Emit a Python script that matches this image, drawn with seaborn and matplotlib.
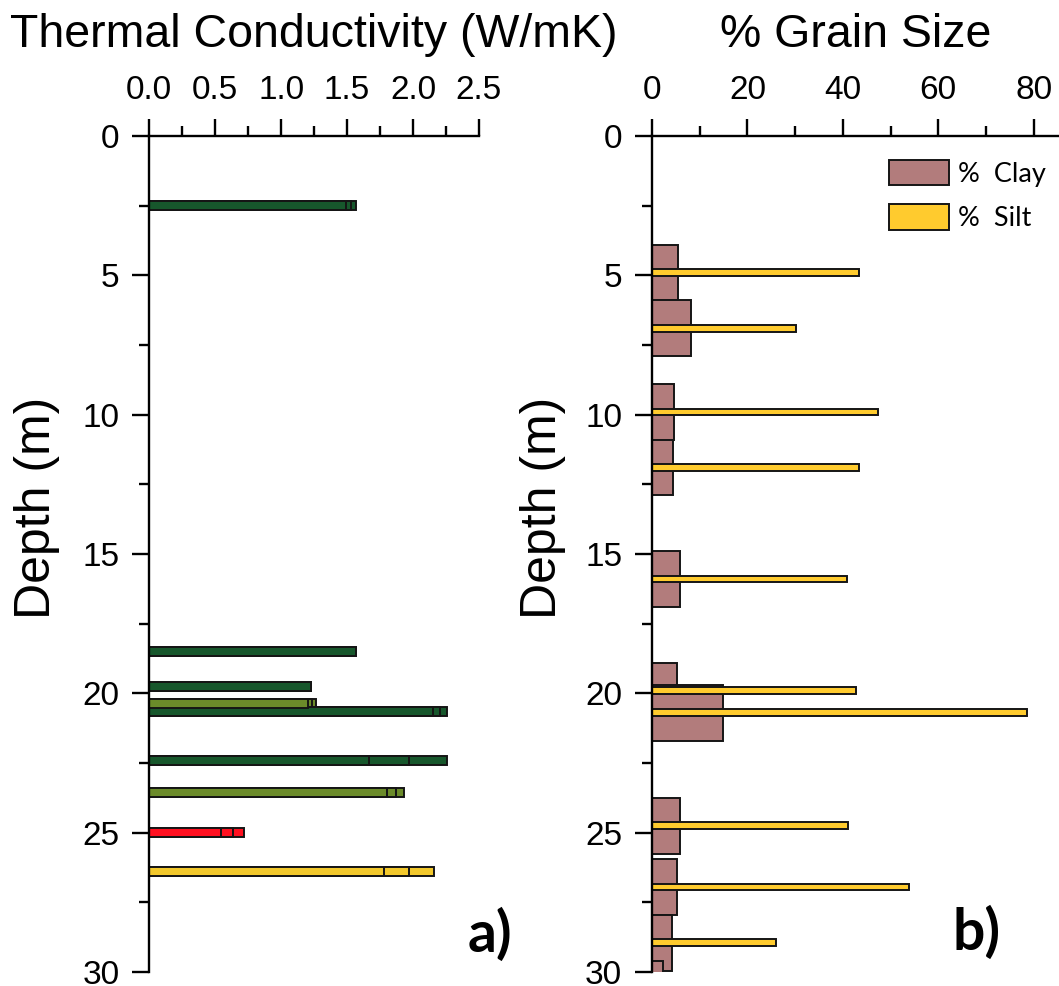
import numpy as np
import pandas as pd
import matplotlib
matplotlib.use("Agg")
import matplotlib.pyplot as plt
from matplotlib.patches import Patch
from matplotlib.ticker import MultipleLocator, FormatStrFormatter
import seaborn as sns

# ---------------- data ----------------
# Panel a) thermal conductivity (three overlapping measurements per depth)
tc_depth = [2.5, 18.5, 19.75, 20.35, 20.65, 22.4, 23.55, 25.0, 26.4]
tc_low = [1.49, 1.567, 1.226, 1.205, 2.153, 1.668, 1.804, 0.541, 1.779]
tc_mid = [1.527, 1.567, 1.226, 1.236, 2.204, 1.971, 1.868, 0.632, 1.971]
tc_high = [1.567, 1.567, 1.226, 1.262, 2.255, 2.255, 1.933, 0.720, 2.158]
tc_group = ["g1", "g1", "g1", "g2", "g1", "g1", "g2", "g3", "g4"]

# Panel b) grain size
clay_depth = [4.9, 6.9, 9.9, 11.9, 15.9, 19.9, 20.7, 24.75, 26.95, 28.95, 30.6]
clay_pct = [5.4, 8.2, 4.7, 4.5, 5.9, 5.2, 14.9, 5.9, 5.2, 4.1, 2.4]
silt_depth = [4.9, 6.9, 9.9, 11.9, 15.9, 19.9, 20.7, 24.75, 26.95, 28.95]
silt_pct = [43.5, 30.2, 47.3, 43.5, 40.9, 42.8, 78.7, 41.0, 53.9, 26.0]

tc_ticks = [0.0, 0.5, 1.0, 1.5, 2.0, 2.5]
gs_ticks = [0, 20, 40, 60, 80]
depth_ticks = [0, 5, 10, 15, 20, 25, 30]

# ---------------- style ----------------
group_colors = {"g1": "#17572C", "g2": "#6B8B2A", "g3": "#FF1020", "g4": "#F2C82C"}
clay_color = "#B27C7C"
silt_color = "#FFCB2E"
edge = "#151515"

sns.set_theme(style="ticks")
plt.rcParams["font.family"] = ["Liberation Sans", "DejaVu Sans"]
for k in ("text.color", "axes.labelcolor", "xtick.color", "ytick.color", "axes.edgecolor"):
    plt.rcParams[k] = "black"

W, H = 1059, 986
fig = plt.figure(figsize=(W / 100, H / 100), dpi=100)

def fx(px):
    return px / W

def fy(py):
    return 1 - py / H

top_px, bot_px = 136, 972
ax1 = fig.add_axes([fx(149.3), fy(bot_px), fx(479 - 149.3), fy(top_px) - fy(bot_px)])
ax2 = fig.add_axes([fx(652), fy(bot_px), fx(W - 652), fy(top_px) - fy(bot_px)])

# ---- panel a ----
bar_thick = 0.32
w1 = bar_thick / np.min(np.diff(np.unique(tc_depth)))
for vals in (tc_high, tc_mid, tc_low):
    df = pd.DataFrame({"depth": tc_depth, "tc": vals, "group": tc_group})
    sns.barplot(data=df, x="tc", y="depth", hue="group", palette=group_colors,
                orient="y", native_scale=True, dodge=False, width=w1,
                saturation=1, errorbar=None, legend=False, edgecolor=edge,
                linewidth=1.4, ax=ax1)

# ---- panel b ----
wc = 2.0 / np.min(np.diff(np.unique(clay_depth)))
ws = 0.24 / np.min(np.diff(np.unique(silt_depth)))
sns.barplot(x=clay_pct, y=clay_depth, orient="y", native_scale=True, width=wc,
            color=clay_color, saturation=1, errorbar=None, edgecolor=edge,
            linewidth=1.4, ax=ax2)
sns.barplot(x=silt_pct, y=silt_depth, orient="y", native_scale=True, width=ws,
            color=silt_color, saturation=1, errorbar=None, edgecolor=edge,
            linewidth=1.4, ax=ax2)

# ---- axes formatting ----
for ax in (ax1, ax2):
    ax.set_ylim(30, 0)
    ax.set_yticks(depth_ticks)
    ax.yaxis.set_minor_locator(MultipleLocator(2.5))
    ax.xaxis.tick_top()
    ax.xaxis.set_label_position("top")
    ax.spines["right"].set_visible(False)
    ax.spines["bottom"].set_visible(False)
    for s in ("left", "top"):
        ax.spines[s].set_linewidth(1.7)
        ax.spines[s].set_color("black")
    ax.tick_params(which="major", length=12.5, width=1.7, direction="out",
                   labelsize=24, pad=9, color="black", labelcolor="black")
    ax.tick_params(which="minor", length=7, width=1.7, direction="out",
                   color="black")
    ax.tick_params(axis="x", which="both", top=True, bottom=False,
                   labeltop=True, labelbottom=False)
    ax.tick_params(axis="y", which="both", left=True, right=False)
    ax.set_ylabel("Depth (m)", fontsize=36, color="black")
    ax.set_facecolor("white")

ax1.set_xlim(0, 2.5)
ax1.set_xticks(tc_ticks)
ax1.xaxis.set_minor_locator(MultipleLocator(0.25))
ax1.xaxis.set_major_formatter(FormatStrFormatter("%.1f"))
ax1.set_xlabel("Thermal Conductivity (W/mK)", fontsize=33.5, labelpad=20,
               color="black")
ax1.yaxis.set_label_coords((60 - 149.3) / (479 - 149.3), 0.555)

ax2.set_xlim(0, (W - 652) / 4.77)
ax2.set_xticks(gs_ticks)
ax2.xaxis.set_minor_locator(MultipleLocator(10))
ax2.set_xlabel("% Grain Size", fontsize=33.5, labelpad=20, color="black")
ax2.yaxis.set_label_coords((566 - 652) / (W - 652), 0.555)

handles = [Patch(facecolor=clay_color, edgecolor=edge, linewidth=1.4, label="%  Clay"),
           Patch(facecolor=silt_color, edgecolor=edge, linewidth=1.4, label="%  Silt")]
ax2.legend(handles=handles, loc="upper left", bbox_to_anchor=(fx(889), fy(160)),
           bbox_transform=fig.transFigure, frameon=False,
           handlelength=2.2, handleheight=1.05, labelspacing=0.65,
           handletextpad=0.35, borderpad=0, borderaxespad=0,
           prop={"family": ["Lato", "DejaVu Sans"], "size": 19.5})

fig.text(fx(490), fy(935), "a)", ha="center", va="center", fontsize=41,
         fontweight="bold", family=["Lato", "DejaVu Sans"])
fig.text(fx(977), fy(933), "b)", ha="center", va="center", fontsize=41,
         fontweight="bold", family=["Lato", "DejaVu Sans"])

fig.savefig("out.png", dpi=100, facecolor="white")
